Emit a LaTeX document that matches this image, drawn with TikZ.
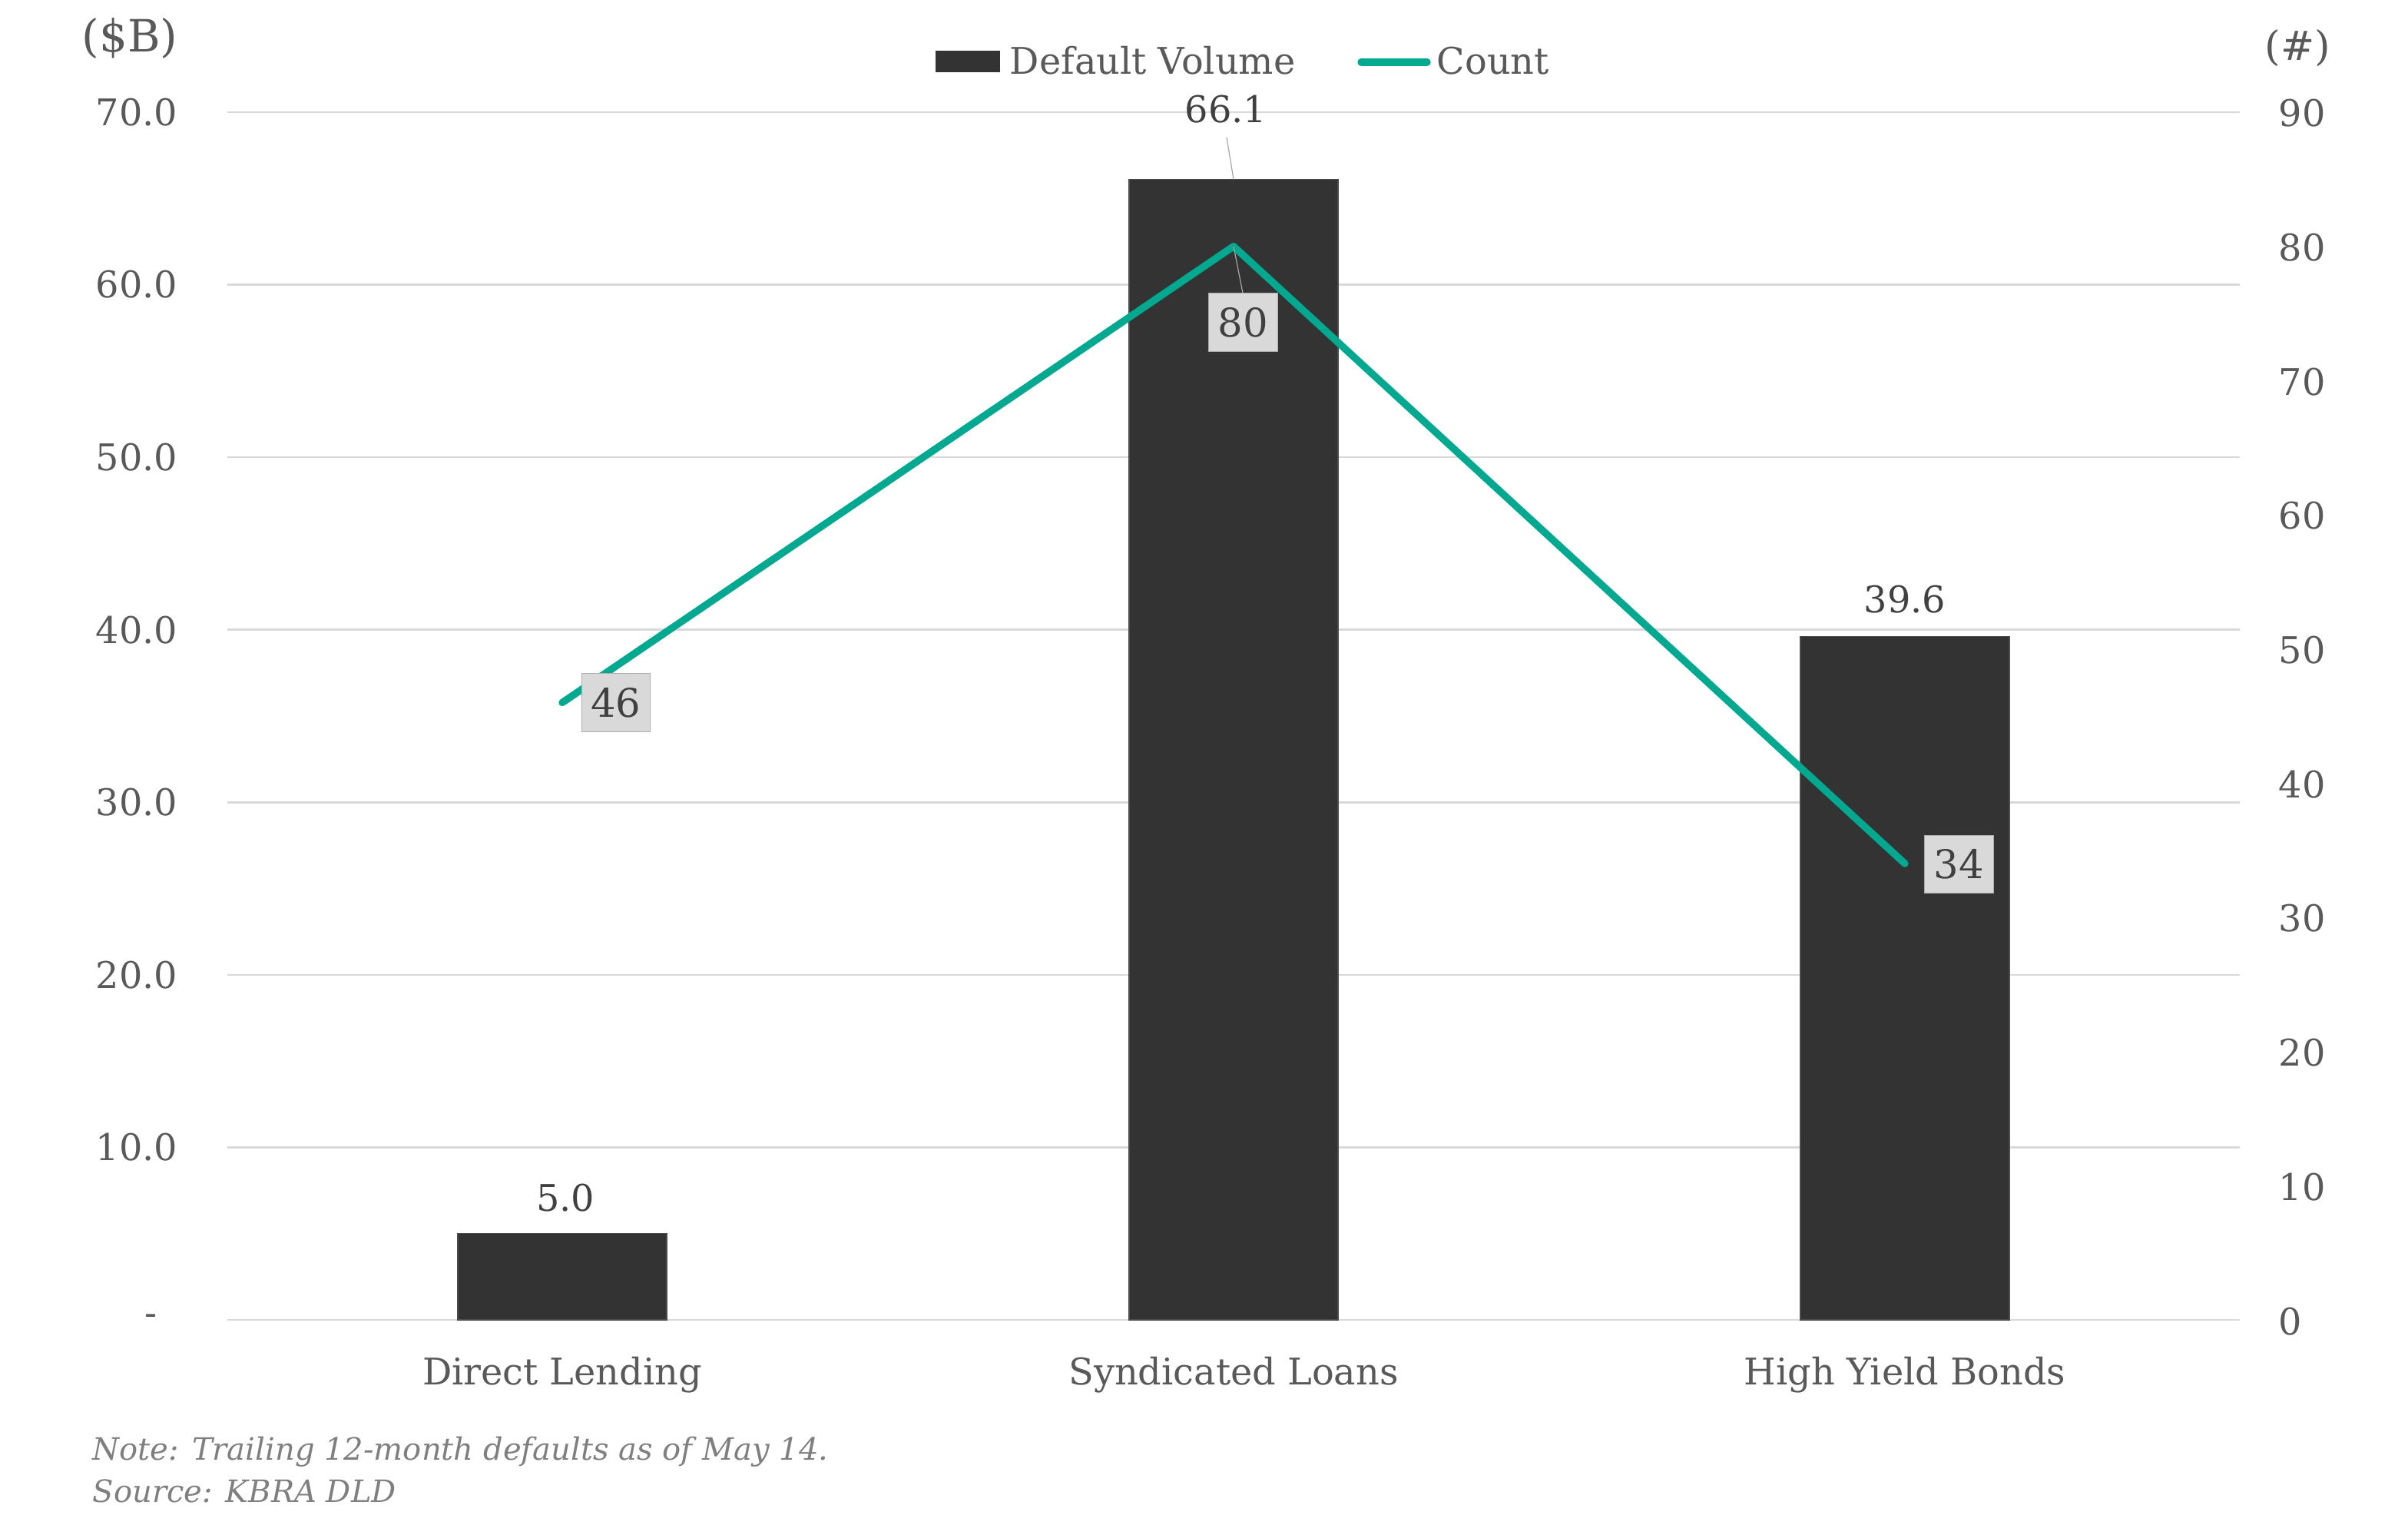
\documentclass[tikz,border=0pt]{standalone}
\usepackage{fontspec}
\setmainfont{DejaVu Serif}
\definecolor{gridc}{HTML}{D9D9D9}
\definecolor{barc}{HTML}{333333}
\definecolor{barline}{HTML}{4A4A4A}
\definecolor{tealc}{RGB}{0,169,143}
\definecolor{axtext}{HTML}{595959}
\definecolor{labtext}{HTML}{404040}
\definecolor{notec}{HTML}{7F7F7F}
\definecolor{leader}{HTML}{A6A6A6}
\newcommand\fAx{\fontsize{13.6}{16}\selectfont}
\newcommand\fUnitL{\fontsize{16.5}{19}\selectfont}
\newcommand\fUnitR{\fontsize{15}{18}\selectfont}
\newcommand\fBox{\fontsize{14.6}{17}\selectfont}
\newcommand\fNote{\fontsize{11.4}{14}\selectfont\itshape}
\tikzset{
  gridline/.style={draw=gridc, line width=0.027cm},
  barbox/.style={fill=barc, draw=barline, line width=0.012cm},
  countline/.style={draw=tealc, line width=0.094cm, line cap=round, line join=round},
  ltick/.style={anchor=base east, font=\fAx, text=axtext, inner sep=0},
  rtick/.style={anchor=base west, font=\fAx, text=axtext, inner sep=0},
  cat/.style={anchor=base, font=\fAx, text=axtext, inner sep=0},
  legtext/.style={anchor=base west, font=\fAx, text=axtext, inner sep=0},
  vallab/.style={anchor=base, font=\fAx, text=labtext, inner sep=0},
  cntbox/.style={fill=gridc, draw=gridc!80!black, line width=0.01cm, font=\fBox, text=labtext,
    minimum width=0.9cm, minimum height=0.76cm, inner sep=0},
  leaderline/.style={draw=leader, line width=0.012cm},
  notetext/.style={anchor=base west, font=\fNote, text=notec, inner sep=0},
}
\begin{document}
\begin{tikzpicture}[x=0.02cm, y=-0.02cm]
\useasboundingbox (0,0) rectangle (1567.5,999);
% gridlines
\foreach \yy in {73,185.29,297.57,409.86,522.14,634.43,746.71,859}
  \draw[gridline] (148,\yy) -- (1458,\yy);
% left axis labels
\node[ltick] (l70) at (116,81.7) {70.0};
\node[ltick] (l60) at (116,194) {60.0};
\node[ltick] (l50) at (116,306.3) {50.0};
\node[ltick] (l40) at (116,418.6) {40.0};
\node[ltick] (l30) at (116,530.9) {30.0};
\node[ltick] (l20) at (116,643.1) {20.0};
\node[ltick] (l10) at (116,755.4) {10.0};
\node[anchor=center, font=\fAx, text=axtext, inner sep=0] (l0) at (98.5,859) {-};
\node[anchor=base east, font=\fUnitL, text=axtext, inner sep=0] (lunit) at (116,34) {(\$B)};
% right axis labels
\node[rtick] (r90) at (1483,82.5) {90};
\node[rtick] (r80) at (1483,169.8) {80};
\node[rtick] (r70) at (1483,257.2) {70};
\node[rtick] (r60) at (1483,344.5) {60};
\node[rtick] (r50) at (1483,431.8) {50};
\node[rtick] (r40) at (1483,519.2) {40};
\node[rtick] (r30) at (1483,606.5) {30};
\node[rtick] (r20) at (1483,693.8) {20};
\node[rtick] (r10) at (1483,781.2) {10};
\node[rtick] (r0) at (1483,868.5) {0};
\node[anchor=base west, font=\fUnitR, text=axtext, inner sep=0] (runit) at (1474,39.5) {(\#)};
% bars
\draw[barbox] (298,859) rectangle (434,802.86);
\draw[barbox] (735,859) rectangle (871,116.79);
\draw[barbox] (1172,859) rectangle (1308,414.35);
% bar value labels
\node[vallab] (v1) at (368,788) {5.0};
\node[vallab] (v2) at (798,80) {66.1};
\node[vallab] (v3) at (1240,399) {39.6};
\coordinate (b2top) at (803,116.79);
\draw[leaderline] (798.5,89.5) -- (b2top);
% count line
\coordinate (p1) at (366,457.27);
\coordinate (p2) at (803,160.33);
\coordinate (p3) at (1240,562.07);
\draw[countline] (p1) -- (p2) -- (p3);
% count labels
\node[cntbox] (c1) at (401,457.5) {46};
\node[cntbox] (c2) at (809,210) {80};
\node[cntbox] (c3) at (1275,562.5) {34};
\draw[leaderline] (c2.north) -- (p2);
% category labels
\node[cat] (k1) at (366,901) {Direct Lending};
\node[cat] (k2) at (803,901) {Syndicated Loans};
\node[cat] (k3) at (1240,901) {High Yield Bonds};
% legend
\fill[barc] (609,33) rectangle (651,47);
\node[legtext] (lg1) at (657,48.5) {Default Volume};
\coordinate (lgA) at (886,40.5);
\coordinate (lgB) at (929,40.5);
\draw[countline] (lgA) -- (lgB);
\node[legtext] (lg2) at (935,48.5) {Count};
% notes
\node[notetext] (n1) at (60,950) {Note: Trailing 12-month defaults as of May 14.};
\node[notetext] (n2) at (60,977.5) {Source: KBRA DLD};
\end{tikzpicture}
\end{document}
